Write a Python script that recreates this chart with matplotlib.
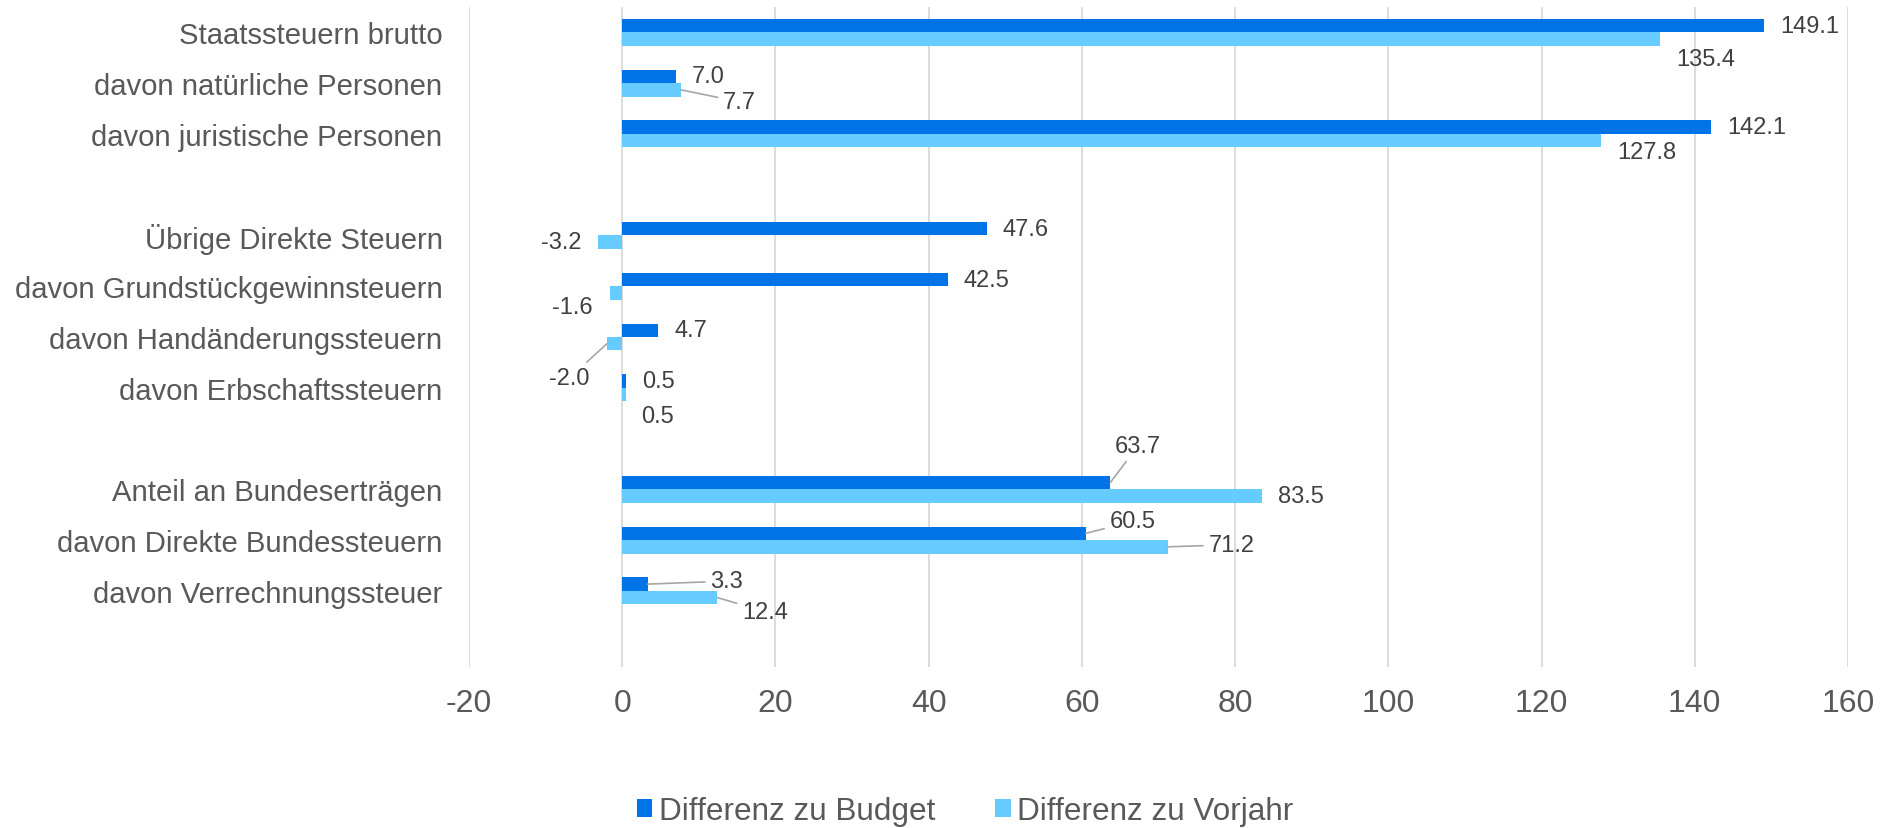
#------------------------------------------------------------------
# Staatssteuern: Differenz zu Budget / Vorjahr (horizontal bars)
#------------------------------------------------------------------

import numpy as np                      # numeric arrays
import matplotlib.pyplot as plt         # plotting library

plt.rcParams['font.family'] = ['Liberation Sans', 'DejaVu Sans']

#==================================================================
# DATA
#==================================================================

categories = ['Staatssteuern brutto', 'davon natürliche Personen', 'davon juristische Personen', '',
              'Übrige Direkte Steuern', 'davon Grundstückgewinnsteuern', 'davon Handänderungssteuern',
              'davon Erbschaftssteuern', '',
              'Anteil an Bundeserträgen', 'davon Direkte Bundessteuern', 'davon Verrechnungssteuer', '']
diff_budget = [149.1, 7.0, 142.1, np.nan, 47.6, 42.5, 4.7, 0.5, np.nan, 63.7, 60.5, 3.3, np.nan]
diff_vorjahr = [135.4, 7.7, 127.8, np.nan, -3.2, -1.6, -2.0, 0.5, np.nan, 83.5, 71.2, 12.4, np.nan]
series_names = ['Differenz zu Budget', 'Differenz zu Vorjahr']
xticks = [-20, 0, 20, 40, 60, 80, 100, 120, 140, 160]

#==================================================================
# STYLE
#==================================================================

colors = ['#0073E6', '#66CCFF']
bar_h = 0.265
txt_grey = '#595959'
lbl_grey = '#404040'
leader_grey = '#A6A6A6'

# label placement (pixels, image y down) relative to bar end / bar centre
# (dx, dy, leader line)
offsets = {
    (1, 0): (17, 20, False),
    (1, 1): (42, 12, True),
    (1, 2): (16, 11, False),
    (1, 5): (-17, 14, False),
    (1, 6): (-17, 34, True),
    (1, 7): (15, 22, False),
    (0, 9): (5, -37, True),
    (0, 10): (24, -12, True),
    (1, 10): (41, -2, True),
    (0, 11): (63, -3, True),
    (1, 11): (25, 14, True),
}

#==================================================================
# PLOT
#==================================================================

fig = plt.figure(figsize=(18.8, 8.29), dpi=100)
ax = fig.add_axes([469/1880, 1 - 668/829, (1848 - 469)/1880, (668 - 8)/829])

ypos = np.arange(len(categories))
for s, vals in enumerate([diff_budget, diff_vorjahr]):
    shift = (s - 0.5) * bar_h
    v = np.array(vals)
    ok = ~np.isnan(v)
    ax.barh(ypos[ok] + shift, v[ok], height=bar_h, color=colors[s], label=series_names[s], zorder=3)
    for i in ypos[ok]:
        val = v[i]
        dx, dy, leader = offsets.get((s, i), (16 if val >= 0 else -16, 0, False))
        ha = 'left' if dx >= 0 else 'right'
        arrow = dict(arrowstyle='-', color=leader_grey, lw=1.2, shrinkA=2, shrinkB=0) if leader else None
        ax.annotate(f'{val:.1f}', xy=(val, i + shift), xytext=(dx, -dy), textcoords='offset pixels',
                    ha=ha, va='center', fontsize=17, color=lbl_grey, arrowprops=arrow, zorder=4)

ax.set_xlim(-20, 160)
ax.set_ylim(len(categories) - 0.5, -0.5)
ax.set_xticks(xticks)
ax.set_xticklabels([str(t) for t in xticks])
ax.set_yticks(ypos)
ax.set_yticklabels(categories)
ax.tick_params(axis='x', length=0, pad=15, labelsize=23, labelcolor=txt_grey)
ax.tick_params(axis='y', length=0, pad=19, labelsize=21.1, labelcolor=txt_grey)
ax.grid(axis='x', color='#D9D9D9', linewidth=1.3, zorder=0)
for sp in ax.spines.values():
    sp.set_visible(False)

# legend
handles, labels = ax.get_legend_handles_labels()
fig.legend(handles, labels, loc='center', bbox_to_anchor=(965/1880, 1 - 812/829), ncol=2, frameon=False,
           fontsize=22.7, labelcolor=txt_grey, handlelength=0.5, handleheight=0.5, handletextpad=0.2,
           columnspacing=1.9)

plt.savefig('out.png', dpi=100)
